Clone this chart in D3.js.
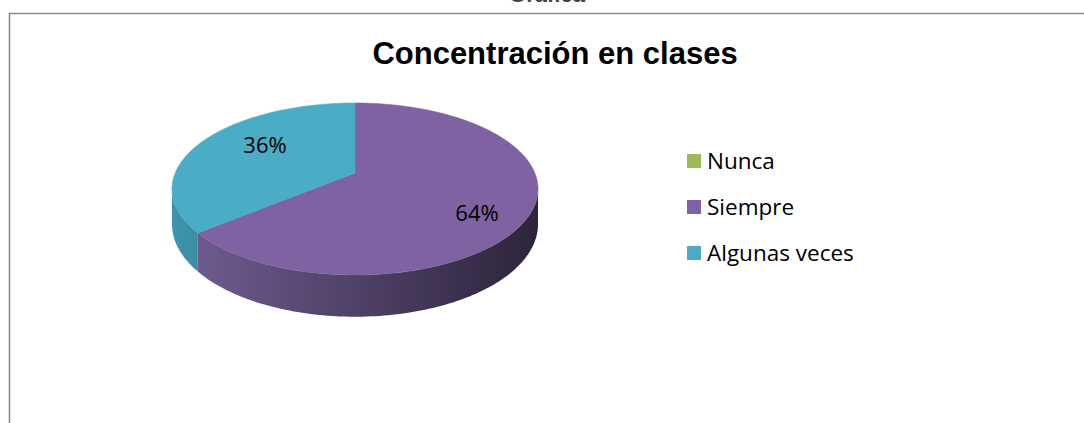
<!DOCTYPE html>
<html>
<head>
<meta charset="utf-8">
<script src="https://cdn.jsdelivr.net/npm/d3@7"></script>
<style>
  body { margin: 0; background: #fff; }
  svg { display: block; }
</style>
</head>
<body>
<svg id="chart" width="1084" height="423"></svg>
<script>
// chart data
var categories = ["Nunca", "Siempre", "Algunas veces"];
var values = [0, 64, 36];
var labels = ["0%", "64%", "36%"];
var topColors = ["#9BBB59", "#7E62A1", "#4BACC6"];
var sideFrom = ["#7e9a45", "#6c5a8e", "#3d94aa"];
var sideTo = ["#5c7431", "#2d2439", "#3a8ca1"];

var svg = d3.select("#chart"),
    width = +svg.attr("width"),
    height = +svg.attr("height");

// caption above the frame, cut off by the top edge as in the original
svg.append("text")
    .attr("x", 547).attr("y", 2)
    .attr("text-anchor", "middle")
    .attr("font-family", "Liberation Sans, Arial, sans-serif")
    .attr("font-weight", "bold")
    .attr("font-size", 22)
    .attr("fill", "#444")
    .text("Gráfica");

// frame (only top and left edges are visible)
svg.append("path")
    .attr("d", "M9.5," + height + "V13.5H" + width)
    .attr("fill", "none")
    .attr("stroke", "#8c8c8c")
    .attr("stroke-width", 1.6);

svg.append("text")
    .attr("x", 555).attr("y", 64)
    .attr("text-anchor", "middle")
    .attr("font-family", "Liberation Sans, Arial, sans-serif")
    .attr("font-weight", "bold")
    .attr("font-size", 31)
    .attr("fill", "#000")
    .text("Concentración en clases");

// 3D pie: disk projected with a simple perspective
var cx = 355, cy = 173, a = 179.8, b = 83, k = 0.186, depth = 34;

function project(theta, down) {
  // theta: clockwise from the far (top) point
  var u = Math.sin(theta), v = -Math.cos(theta);
  var w = 1 - k * v;
  return [cx + a * u / w, cy + b * v / w + (down ? depth / w : 0)];
}

var pie = d3.pie().sort(null).startAngle(0).endAngle(2 * Math.PI);
var arcs = pie(values);

var defs = svg.append("defs");
arcs.forEach(function(d, i) {
  var g = defs.append("linearGradient")
      .attr("id", "side" + i)
      .attr("gradientUnits", "userSpaceOnUse")
      .attr("x1", i === 2 ? 172 : 200).attr("x2", i === 2 ? 205 : 538)
      .attr("y1", 0).attr("y2", 0);
  g.append("stop").attr("offset", 0).attr("stop-color", sideFrom[i]);
  g.append("stop").attr("offset", 1).attr("stop-color", sideTo[i]);
});

// visible rim runs between the two silhouette points
var frontA = Math.acos(-k), frontB = 2 * Math.PI - Math.acos(-k);

function rimPoints(t0, t1, down) {
  var n = Math.max(2, Math.ceil((t1 - t0) / 0.02));
  return d3.range(n + 1).map(function(j) { return project(t0 + (t1 - t0) * j / n, down); });
}

var line = d3.line();

var sides = svg.append("g").attr("class", "sides");
arcs.forEach(function(d, i) {
  var t0 = Math.max(d.startAngle, frontA), t1 = Math.min(d.endAngle, frontB);
  if (t1 <= t0) return;
  var pts = rimPoints(t0, t1, false).concat(rimPoints(t0, t1, true).reverse());
  sides.append("path")
      .attr("d", line(pts) + "Z")
      .attr("fill", "url(#side" + i + ")");
});

var tops = svg.append("g").attr("class", "tops");
arcs.forEach(function(d, i) {
  if (d.endAngle - d.startAngle <= 0) return;
  var pts = [[cx, cy]].concat(rimPoints(d.startAngle, d.endAngle, false));
  tops.append("path")
      .attr("d", line(pts) + "Z")
      .attr("fill", topColors[i])
      .attr("stroke", topColors[i])
      .attr("stroke-width", 0.6);
});

// percentage labels
var labelPos = [null, [477, 221], [265, 153]];
arcs.forEach(function(d, i) {
  if (!labelPos[i]) return;
  svg.append("text")
      .attr("x", labelPos[i][0]).attr("y", labelPos[i][1])
      .attr("text-anchor", "middle")
      .attr("font-family", "Open Sans, sans-serif")
      .attr("font-size", 22)
      .attr("fill", "#000")
      .text(labels[i]);
});

// legend
var legendY = d3.scalePoint().domain(categories).range([161, 253]);
var legend = svg.append("g").attr("class", "legend");
categories.forEach(function(c, i) {
  legend.append("rect")
      .attr("x", 687).attr("y", legendY(c) - 7)
      .attr("width", 14).attr("height", 14)
      .attr("fill", topColors[i]);
  legend.append("text")
      .attr("x", 707).attr("y", legendY(c) + 8)
      .attr("font-family", "Open Sans, sans-serif")
      .attr("font-size", 22.5)
      .attr("fill", "#000")
      .text(c);
});
</script>
</body>
</html>
